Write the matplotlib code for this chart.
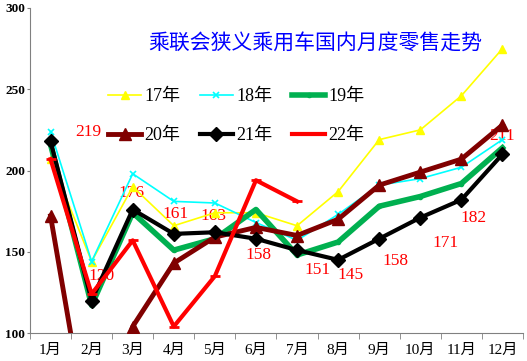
import matplotlib
matplotlib.use("Agg")
import matplotlib.pyplot as plt

months = ["1月", "2月", "3月", "4月", "5月", "6月", "7月", "8月", "9月", "10月", "11月", "12月"]
y17 = [207, 144, 190, 166, 174, 174, 166, 187, 219, 225, 246, 275]
y18 = [224, 144, 198, 181, 180, 168, 157, 173, 191, 195, 202, 219]
y19 = [216, 117, 174, 151, 158, 176, 148, 156, 178, 184, 192, 214]
y20 = [172, 25, 104, 143, 159, 165, 160, 170, 191, 199, 207, 228]
y21 = [218, 120, 176, 161, 162, 158, 151, 145, 158, 171, 182, 210]
y22 = [207, 124, 157, 104, 135, 194, 181]
labels21 = ["219", "120", "176", "161", "163", "158", "151", "145", "158", "171", "182", "211"]

# label offsets in points (hand-placed in the original)
label_off = [(27, 7), (7, 18), (-1, 12), (1, 14), (-1, 12), (2, -12),
             (15, -14), (9, -11), (12, -16), (18, -18), (9, -13), (0, 13)]

serif = ["Liberation Serif", "Noto Sans CJK SC"]
plt.rcParams["font.family"] = serif

fig = plt.figure(figsize=(5.27, 3.61), dpi=100)
ax = fig.add_axes([30 / 527, 1 - 333 / 361, 493 / 527, 325 / 361])

x = list(range(1, 13))
h17, = ax.plot(x, y17, color="#FFFF00", lw=1.2, marker="^", ms=6, label="17年", zorder=3)
h18, = ax.plot(x, y18, color="#00FFFF", lw=1.2, marker="x", ms=4, mew=1.2, label="18年", zorder=3)
h19, = ax.plot(x, y19, color="#00B050", lw=4, marker="o", ms=3, label="19年", zorder=4)
h20, = ax.plot(x, y20, color="#800000", lw=3.5, marker="^", ms=9, label="20年", zorder=5)
h21, = ax.plot(x, y21, color="black", lw=3, marker="D", ms=7, label="21年", zorder=6)
h22, = ax.plot(x[:len(y22)], y22, color="#FF0000", lw=3, marker="_", ms=7, mew=2, label="22年", zorder=7)

for i, (t, off) in enumerate(zip(labels21, label_off)):
    ax.annotate(t, (x[i], y21[i]), xytext=off, textcoords="offset points",
                ha="center", va="center", color="red", fontsize=12.5, zorder=2)

ax.set_xlim(0.5, 12.5)
ax.set_ylim(100, 300)
ax.set_yticks([100, 150, 200, 250, 300])
ax.set_xticks(x)
ax.set_xticklabels(months, fontsize=11)
ax.set_xticks([i + 0.5 for i in range(0, 13)], minor=True)
ax.tick_params(axis="x", which="major", length=0, pad=8)
ax.tick_params(axis="x", which="minor", length=4, color="#808080", direction="out")
ax.tick_params(axis="y", length=2, color="#808080", labelsize=9.5, pad=1.5)
for lab in ax.get_yticklabels():
    lab.set_fontweight("bold")
for s in ["top", "right"]:
    ax.spines[s].set_visible(False)
for s in ["left", "bottom"]:
    ax.spines[s].set_color("#808080")
ax.patch.set_alpha(0)

fig.text(315 / 527, 1 - 43 / 361, "乘联会狭义乘用车国内月度零售走势", color="#0000FF",
         fontsize=15, ha="center", va="center", family=["Noto Sans CJK SC"])

handles = [h17, h20, h18, h21, h19, h22]
ax.legend(handles=handles, labels=[h.get_label() for h in handles], ncol=3,
          frameon=False, fontsize=13, handlelength=1.8, handletextpad=0.2,
          columnspacing=1.1, labelspacing=1.2,
          loc="upper left", bbox_to_anchor=((92 - 30) / 493, (333 - 72) / 325))

fig.savefig("out.png", dpi=100)
